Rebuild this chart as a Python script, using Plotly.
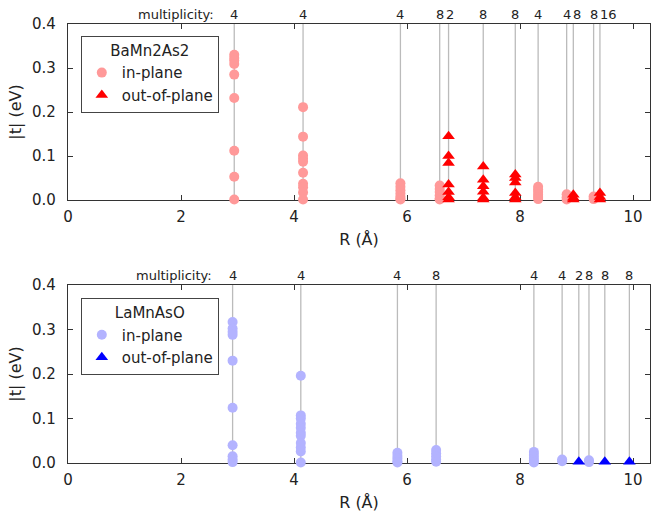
import plotly.graph_objects as go

# ---------------- data ----------------
# BaMn2As2
ba_in_R = [2.942, 4.160, 5.883, 6.578, 8.320, 8.825, 9.302]
ba_in_mult = [4, 4, 4, 8, 4, 4, 8]
ba_in_t = [
    [0.330, 0.323, 0.317, 0.309, 0.285, 0.232, 0.112, 0.053, 0.001],
    [0.211, 0.144, 0.101, 0.094, 0.087, 0.062, 0.037, 0.029, 0.017, 0.001],
    [0.038, 0.030, 0.022, 0.015, 0.008, 0.003, 0.001],
    [0.033, 0.025, 0.018, 0.010, 0.004, 0.001],
    [0.030, 0.024, 0.018, 0.012, 0.007, 0.002],
    [0.013, 0.006, 0.001],
    [0.008, 0.002],
]
ba_out_R = [6.735, 7.349, 7.916, 8.943, 9.414]
ba_out_mult = [2, 8, 8, 8, 16]
ba_out_t = [
    [0.145, 0.100, 0.084, 0.035, 0.018, 0.006, 0.001],
    [0.076, 0.046, 0.031, 0.019, 0.005, 0.001],
    [0.058, 0.050, 0.040, 0.016, 0.006, 0.001],
    [0.012, 0.005, 0.001],
    [0.016, 0.007, 0.001],
]

# LaMnAsO
la_in_R = [2.913, 4.120, 5.830, 6.515, 8.245, 8.745, 9.220]
la_in_mult = [4, 4, 4, 8, 4, 4, 8]
la_in_t = [
    [0.317, 0.302, 0.295, 0.288, 0.230, 0.124, 0.040, 0.015, 0.008, 0.002],
    [0.196, 0.107, 0.100, 0.088, 0.079, 0.068, 0.061, 0.045, 0.035, 0.026, 0.001],
    [0.023, 0.016, 0.010, 0.004, 0.001],
    [0.029, 0.022, 0.015, 0.008, 0.003],
    [0.025, 0.018, 0.011, 0.005, 0.001],
    [0.008, 0.004],
    [0.006, 0.002],
]
la_out_R = [9.040, 9.500, 9.935]
la_out_mult = [2, 8, 8]
la_out_t = [[0.003], [0.003], [0.003]]

x_ticks = [0, 2, 4, 6, 8, 10]
y_ticks = [0.0, 0.1, 0.2, 0.3, 0.4]

FONT = "DejaVu Sans"
AXC = "#333333"
TXT = "#222222"

X_MAX = 10.3
ML, MR, MT, MB = 68, 3, 24, 50
PX_PER_UNIT = (653 - ML - MR) / X_MAX

fig = go.Figure()
annotations = []


def add_panel(xa, ya, legend, in_R, in_mult, in_t, out_R, out_mult, out_t,
              in_color, out_color):
    lx, ly = [], []
    for R in list(in_R) + list(out_R):
        lx += [R, R, None]
        ly += [0, 0.4, None]
    fig.add_trace(go.Scatter(x=lx, y=ly, mode="lines",
                             line=dict(color="#bbbbbb", width=1.3),
                             xaxis=xa, yaxis=ya, showlegend=False,
                             hoverinfo="skip", cliponaxis=False))
    px, py = [], []
    for R, ts in zip(in_R, in_t):
        px += [R] * len(ts)
        py += ts
    fig.add_trace(go.Scatter(x=px, y=py, mode="markers", name="in-plane",
                             marker=dict(symbol="circle", size=10, color=in_color),
                             xaxis=xa, yaxis=ya, legend=legend, cliponaxis=False))
    qx, qy = [], []
    for R, ts in zip(out_R, out_t):
        qx += [R] * len(ts)
        qy += ts
    fig.add_trace(go.Scatter(x=qx, y=qy, mode="markers", name="out-of-plane",
                             marker=dict(symbol="triangle-up", size=11, color=out_color),
                             xaxis=xa, yaxis=ya, legend=legend, cliponaxis=False))
    pairs = sorted(zip(list(in_R) + list(out_R), list(in_mult) + list(out_mult)))
    yref = ya + " domain"
    cw = 8.3  # approx digit width in px at 13px
    prev_right = -1e9
    for R, m in pairs:
        s = str(m)
        w = cw * len(s)
        cx = R * PX_PER_UNIT
        if cx - w / 2 < prev_right + 2:
            cx = prev_right + 2 + w / 2
        shift = cx - R * PX_PER_UNIT
        prev_right = cx + w / 2
        annotations.append(dict(x=R, y=1, xref=xa, yref=yref, text=s,
                                showarrow=False, yanchor="bottom", yshift=0,
                                xshift=shift,
                                font=dict(family=FONT, size=13, color=TXT)))
    annotations.append(dict(x=pairs[0][0] - 0.33, y=1, xref=xa, yref=yref,
                            text="multiplicity:", showarrow=False,
                            xanchor="right", yanchor="bottom", yshift=0,
                            font=dict(family=FONT, size=13, color=TXT)))


add_panel("x", "y", "legend", ba_in_R, ba_in_mult, ba_in_t,
          ba_out_R, ba_out_mult, ba_out_t, "#ff9999", "#ff0000")
add_panel("x2", "y2", "legend2", la_in_R, la_in_mult, la_in_t,
          la_out_R, la_out_mult, la_out_t, "#b3b3ff", "#0000ff")

axis_common = dict(showline=True, linecolor=AXC, linewidth=1.2, mirror="ticks",
                   ticks="inside", ticklen=5, tickcolor=AXC, tickwidth=1,
                   showgrid=False, zeroline=False, layer="below traces",
                   automargin=False,
                   tickfont=dict(family=FONT, size=15, color=TXT))

xa_common = dict(axis_common, range=[0, X_MAX], tickvals=x_ticks,
                 ticktext=[str(v) for v in x_ticks], ticklabelstandoff=3,
                 title=dict(text="R (Å)", font=dict(family=FONT, size=16, color=TXT),
                            standoff=8))
ya_common = dict(axis_common, range=[0, 0.4], tickvals=y_ticks,
                 ticktext=["%.1f" % v for v in y_ticks], ticklabelstandoff=8,
                 title=dict(text="|t| (eV)", font=dict(family=FONT, size=16, color=TXT),
                            standoff=6))

legend_common = dict(bgcolor="white", bordercolor="#444", borderwidth=1,
                     font=dict(family=FONT, size=15, color=TXT),
                     xanchor="left", yanchor="top", tracegroupgap=0,
                     itemwidth=30)

top_lo = (513 - MB - MT - (200 - MT)) / (513 - MB - MT)
bot_hi = (463 - 285) / (513 - MB - MT)

fig.update_layout(
    width=653, height=513,
    margin=dict(l=ML, r=MR, t=MT, b=MB, autoexpand=False),
    paper_bgcolor="white", plot_bgcolor="white",
    xaxis=dict(xa_common, domain=[0, 1], anchor="y"),
    yaxis=dict(ya_common, domain=[top_lo, 1], anchor="x"),
    xaxis2=dict(xa_common, domain=[0, 1], anchor="y2"),
    yaxis2=dict(ya_common, domain=[0, bot_hi], anchor="x2"),
    legend=dict(legend_common, x=0.022, y=0.973,
                title=dict(text="BaMn2As2", side="top center",
                           font=dict(family=FONT, size=15, color=TXT))),
    legend2=dict(legend_common, x=0.022, y=0.376,
                 title=dict(text="LaMnAsO", side="top center",
                            font=dict(family=FONT, size=15, color=TXT))),
    annotations=annotations,
    showlegend=True,
)

fig.write_html("out.html",
               config={"displayModeBar": False},
               post_script="document.body.style.margin='0';document.body.style.overflow='hidden';")
